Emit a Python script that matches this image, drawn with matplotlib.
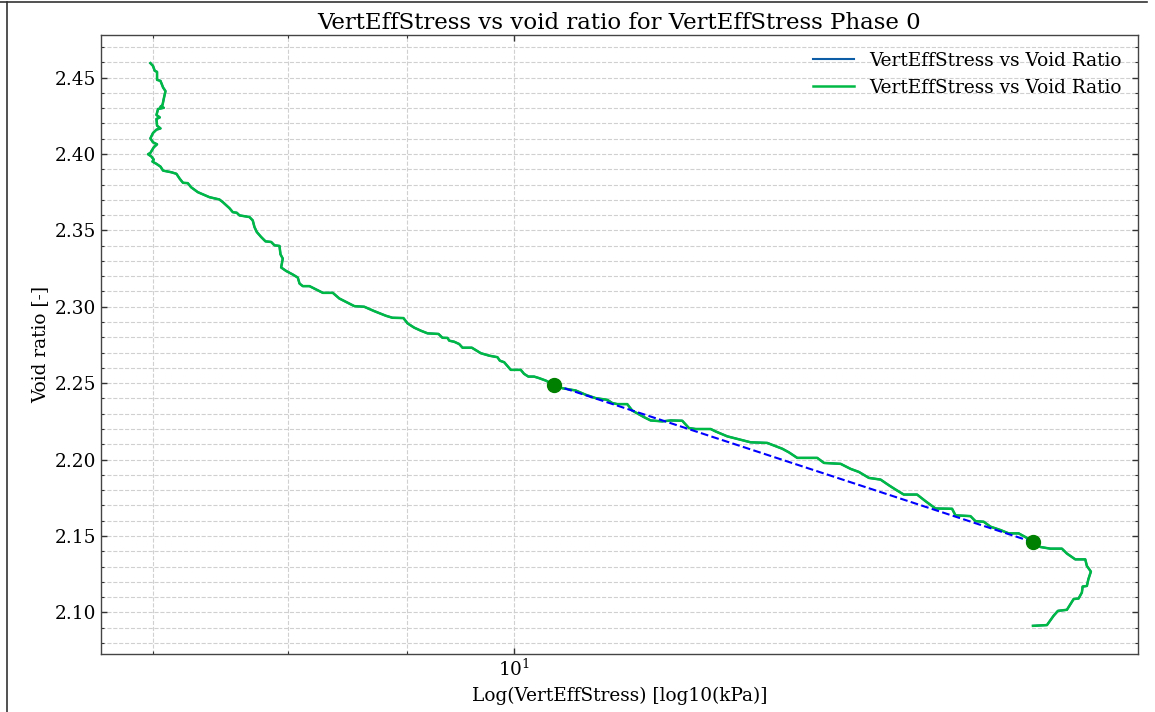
import matplotlib
matplotlib.use("Agg")
import matplotlib.pyplot as plt
from matplotlib.ticker import MultipleLocator, NullFormatter, FormatStrFormatter
from matplotlib.lines import Line2D

# vertical effective stress (kPa) and void ratio
stress = [6.981, 6.999, 7.011, 7.027, 7.027, 7.051, 7.069, 7.086, 7.076, 7.065,
          7.051, 7.074, 7.034, 7.023, 7.046, 7.023, 7.027, 7.051, 7.023, 6.999,
          6.981, 6.999, 7.027, 7.004, 6.981, 6.965, 6.988, 7.004, 6.995, 7.023,
          7.051, 7.069, 7.128, 7.163, 7.187, 7.210, 7.244, 7.268, 7.316, 7.401,
          7.474, 7.499, 7.549, 7.574, 7.604, 7.624, 7.700, 7.725, 7.738, 7.756,
          7.790, 7.823, 7.867, 7.893, 7.932, 7.940, 7.958, 7.945, 7.985, 8.037,
          8.077, 8.091, 8.117, 8.171, 8.226, 8.280, 8.362, 8.416, 8.472, 8.542,
          8.626, 8.710, 8.813, 8.870, 8.967, 9.004, 9.064, 9.124, 9.184, 9.284,
          9.320, 9.367, 9.383, 9.429, 9.476, 9.507, 9.595, 9.681, 9.761, 9.841,
          9.865, 9.907, 9.972, 10.071, 10.104, 10.147, 10.205, 10.255, 10.323, 10.408,
          10.494, 10.634, 10.740, 10.846, 10.971, 11.025, 11.080, 11.190, 11.245, 11.376,
          11.452, 11.585, 11.682, 11.816, 11.895, 11.974, 12.153, 12.213, 12.354, 12.518,
          12.643, 12.852, 13.045, 13.132, 13.240, 13.505, 13.595, 13.821, 13.958, 14.073,
          14.213, 14.378, 14.496, 14.592, 14.712, 14.907, 15.031, 15.180, 15.432, 15.484,
          15.715, 15.793, 15.923, 16.029, 16.188, 16.321, 16.483, 16.593, 16.718, 16.841,
          17.008, 17.204, 17.289, 17.433, 17.606, 17.634, 17.704, 17.660, 17.634, 17.560,
          17.547, 17.490, 17.404, 17.289, 17.136, 17.063, 16.951, 16.718]
void_ratio = [2.4594, 2.4576, 2.4544, 2.4537, 2.4485, 2.4478, 2.4435, 2.4411, 2.4370, 2.4320,
              2.4309, 2.4302, 2.4294, 2.4255, 2.4239, 2.4229, 2.4185, 2.4167, 2.4159, 2.4137,
              2.4102, 2.4076, 2.4063, 2.4043, 2.4007, 2.3998, 2.3983, 2.3963, 2.3950, 2.3935,
              2.3917, 2.3891, 2.3880, 2.3870, 2.3837, 2.3811, 2.3809, 2.3782, 2.3750, 2.3717,
              2.3702, 2.3685, 2.3645, 2.3619, 2.3615, 2.3598, 2.3587, 2.3565, 2.3522, 2.3489,
              2.3456, 2.3428, 2.3424, 2.3402, 2.3398, 2.3343, 2.3315, 2.3257, 2.3234, 2.3211,
              2.3191, 2.3152, 2.3135, 2.3135, 2.3113, 2.3091, 2.3091, 2.3054, 2.3032, 2.3004,
              2.3000, 2.2972, 2.2941, 2.2928, 2.2926, 2.2891, 2.2863, 2.2843, 2.2826, 2.2822,
              2.2797, 2.2796, 2.2778, 2.2771, 2.2756, 2.2732, 2.2732, 2.2696, 2.2680, 2.2670,
              2.2647, 2.2637, 2.2587, 2.2587, 2.2561, 2.2543, 2.2543, 2.2533, 2.2517, 2.2489,
              2.2467, 2.2452, 2.2424, 2.2402, 2.2391, 2.2370, 2.2363, 2.2363, 2.2321, 2.2278,
              2.2256, 2.2250, 2.2256, 2.2254, 2.2206, 2.2200, 2.2200, 2.2184, 2.2152, 2.2130,
              2.2113, 2.2109, 2.2071, 2.2047, 2.2011, 2.2011, 2.1978, 2.1972, 2.1939, 2.1919,
              2.1880, 2.1869, 2.1832, 2.1804, 2.1771, 2.1771, 2.1728, 2.1680, 2.1678, 2.1635,
              2.1630, 2.1597, 2.1593, 2.1561, 2.1539, 2.1517, 2.1517, 2.1493, 2.1460, 2.1428,
              2.1417, 2.1417, 2.1385, 2.1347, 2.1347, 2.1304, 2.1267, 2.1217, 2.1173, 2.1169,
              2.1130, 2.1091, 2.1087, 2.1017, 2.1010, 2.0978, 2.0917, 2.0912]

# picked points for the compression line
picked_stress = [10.408, 16.718]
picked_void = [2.2489, 2.1460]

label = 'VertEffStress vs Void Ratio'
title = 'VertEffStress vs void ratio for VertEffStress Phase 0'

plt.rcParams['font.family'] = 'DejaVu Serif'
plt.rcParams['mathtext.fontset'] = 'dejavuserif'

fig = plt.figure(figsize=(11.55, 7.12), dpi=100)
ax = fig.add_axes([0.0874, 0.0815, 0.8979, 0.8693])

ax.plot(stress, void_ratio, color='#0C5DA5', linewidth=1.5, label=label)
ax.plot(stress, void_ratio, color='#00B945', linewidth=1.8, label=label)
ax.plot(picked_stress, picked_void, 'b--', linewidth=1.5)
ax.plot(picked_stress, picked_void, 'o', color='green', markersize=10)

ax.set_xscale('log')
ax.xaxis.set_minor_formatter(NullFormatter())
ax.yaxis.set_major_locator(MultipleLocator(0.05))
ax.yaxis.set_minor_locator(MultipleLocator(0.01))
ax.yaxis.set_major_formatter(FormatStrFormatter('%.2f'))

ax.tick_params(which='both', direction='in', top=True, right=True, labelsize=13.3, colors='#333333', labelcolor='black')
ax.tick_params(which='major', length=4, width=1)
ax.tick_params(which='minor', length=2, width=0.8)
for s in ax.spines.values():
    s.set_color('#444444')
    s.set_linewidth(1)

ax.grid(True, which='both', linestyle='--', color='#d0d0d0', linewidth=0.8)
ax.set_axisbelow(True)

ax.set_xlabel('Log(VertEffStress) [log10(kPa)]', fontsize=13.3, labelpad=5)
ax.set_ylabel('Void ratio [-]', fontsize=13.3)
ax.set_title(title, fontsize=16.5, pad=4)
ax.legend(loc='upper right', frameon=False, fontsize=13.3, handlelength=2.2)

# border lines from the original screenshot
fig.add_artist(Line2D([0, 1147 / 1155], [1 - 2 / 712, 1 - 2 / 712], color='#333333', linewidth=1.2))
fig.add_artist(Line2D([7 / 1155, 7 / 1155], [0, 1 - 2 / 712], color='#333333', linewidth=1.2))

plt.savefig('out.png', dpi=100)
plt.close()
